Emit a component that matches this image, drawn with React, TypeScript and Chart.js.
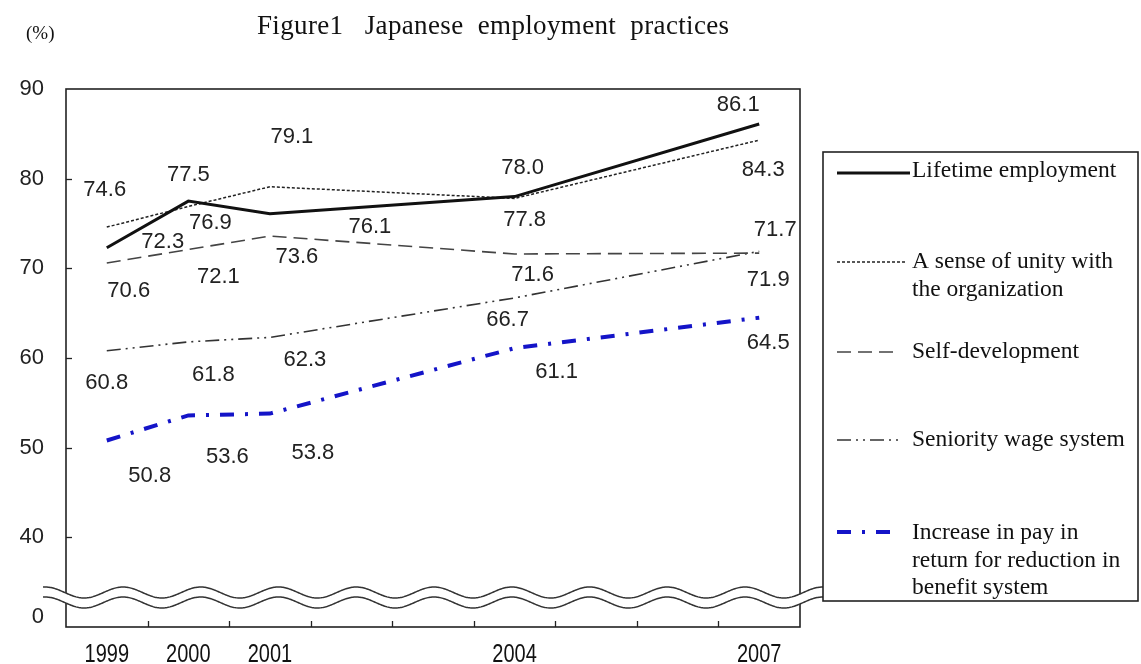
import React, { useEffect, useRef } from 'react';
import { Chart, registerables } from 'chart.js';

Chart.register(...registerables);

// ---------- data ----------
const years = ['1999', '2000', '2001', '2002', '2003', '2004', '2005', '2006', '2007'];
const surveyYears = ['1999', '2000', '2001', '2004', '2007'];

const lifetimeEmployment = [72.3, 77.5, 76.1, null, null, 78.0, null, null, 86.1];
const senseOfUnity = [74.6, 76.9, 79.1, null, null, 77.8, null, null, 84.3];
const selfDevelopment = [70.6, 72.1, 73.6, null, null, 71.6, null, null, 71.7];
const seniorityWage = [60.8, 61.8, 62.3, null, null, 66.7, null, null, 71.9];
const payForBenefitCut = [50.8, 53.6, 53.8, null, null, 61.1, null, null, 64.5];

const seriesNames = [
  ['Lifetime employment'],
  ['A sense of unity with', 'the organization'],
  ['Self-development'],
  ['Seniority wage system'],
  ['Increase in pay in', 'return for reduction in', 'benefit system'],
];

// y ticks: the "0" tick sits just above the broken axis bottom
const yTickValues = [31.1, 40, 50, 60, 70, 80, 90];
const yTickLabels = ['0', '40', '50', '60', '70', '80', '90'];

const titleText = 'Figure1   Japanese  employment  practices';
const unitText = '(%)';

// ---------- label placement (pixel offsets from each point) ----------
const labelOffsets: number[][][] = [
  [[56, -6], [0, -26], [100, 13], [8, -29], [-21, -19]],
  [[-2, -37], [22, 16], [22, -50], [10, 22], [4, 30]],
  [[22, 28], [30, 27], [27, 21], [18, 21], [16, -23]],
  [[0, 32], [25, 33], [35, 23], [-7, 22], [9, 29]],
  [[43, 35], [39, 42], [43, 39], [42, 24], [9, 25]],
];

// ---------- styles ----------
const seriesStyles = [
  { color: '#111111', width: 3, dash: [] as number[] },
  { color: '#222222', width: 1.5, dash: [3, 2] },
  { color: '#444444', width: 1.6, dash: [14, 7] },
  { color: '#333333', width: 1.6, dash: [14, 5, 2, 5, 2, 5] },
  { color: '#1414c8', width: 4, dash: [14, 11, 3, 11] },
];

const legendItems = [
  { lineY: 173, textY: 171, x2: 910 },
  { lineY: 262, textY: 262, x2: 905 },
  { lineY: 352, textY: 352, x2: 900 },
  { lineY: 440, textY: 440, x2: 900 },
  { lineY: 532, textY: 533, x2: 895 },
];

const serif = '"Liberation Serif", "Times New Roman", serif';
const sans = '"Liberation Sans", Arial, sans-serif';

const decorPlugin = {
  id: 'decor',
  afterDatasetsDraw(chart: any) {
    const { ctx, chartArea: ca } = chart;
    const x = chart.scales.x;
    const y = chart.scales.y;
    ctx.save();

    // frame
    ctx.strokeStyle = '#222';
    ctx.lineWidth = 1.6;
    ctx.setLineDash([]);
    ctx.strokeRect(ca.left, ca.top, ca.right - ca.left, ca.bottom - ca.top);

    // inward y ticks
    ctx.lineWidth = 1.3;
    yTickValues.forEach((v) => {
      if (v >= 40 && v < 90) {
        const py = Math.round(y.getPixelForValue(v)) + 0.5;
        ctx.beginPath();
        ctx.moveTo(ca.left, py);
        ctx.lineTo(ca.left + 6, py);
        ctx.stroke();
      }
    });
    // inward x ticks at category boundaries
    for (let i = 0; i < years.length - 1; i++) {
      const px = Math.round((x.getPixelForValue(i) + x.getPixelForValue(i + 1)) / 2) + 0.5;
      ctx.beginPath();
      ctx.moveTo(px, ca.bottom);
      ctx.lineTo(px, ca.bottom - 6);
      ctx.stroke();
    }

    // x tick labels (narrow sans)
    ctx.fillStyle = '#111';
    ctx.font = `25px ${sans}`;
    ctx.textAlign = 'center';
    ctx.textBaseline = 'middle';
    years.forEach((yr, i) => {
      if (!surveyYears.includes(yr)) return;
      ctx.save();
      ctx.translate(x.getPixelForValue(i), ca.bottom + 28);
      ctx.scale(0.8, 1);
      ctx.fillText(yr, 0, 0);
      ctx.restore();
    });

    // axis break (double wavy line)
    const x0 = 43;
    const x1 = 828;
    const up = ca.bottom - 34.5;
    const lo = ca.bottom - 24.5;
    const amp = 5.5;
    const period = 77.75;
    const peak = 123;
    const wave = (px: number, c: number) => c - amp * Math.cos((2 * Math.PI * (px - peak)) / period);
    ctx.beginPath();
    for (let px = x0; px <= x1; px += 1) {
      const py = wave(px, up);
      if (px === x0) ctx.moveTo(px, py);
      else ctx.lineTo(px, py);
    }
    for (let px = x1; px >= x0; px -= 1) ctx.lineTo(px, wave(px, lo));
    ctx.closePath();
    ctx.fillStyle = '#ffffff';
    ctx.fill();
    ctx.strokeStyle = '#333';
    ctx.lineWidth = 1.5;
    [up, lo].forEach((c) => {
      ctx.beginPath();
      for (let px = x0; px <= x1; px += 1) {
        const py = wave(px, c);
        if (px === x0) ctx.moveTo(px, py);
        else ctx.lineTo(px, py);
      }
      ctx.stroke();
    });

    // data labels
    ctx.fillStyle = '#222';
    ctx.font = `22px ${sans}`;
    ctx.textAlign = 'center';
    ctx.textBaseline = 'middle';
    chart.data.datasets.forEach((ds: any, di: number) => {
      let k = 0;
      ds.data.forEach((v: number | null, i: number) => {
        if (v == null) return;
        const off = labelOffsets[di][k++];
        const px = x.getPixelForValue(i);
        const py = y.getPixelForValue(v);
        ctx.fillText(v.toFixed(1), px + off[0], py + off[1]);
      });
    });

    // title and unit
    ctx.textAlign = 'left';
    ctx.textBaseline = 'alphabetic';
    ctx.fillStyle = '#111';
    ctx.font = `27px ${serif}`;
    (ctx as any).letterSpacing = '0.35px';
    ctx.fillText(titleText, 257, 34);
    (ctx as any).letterSpacing = '0px';
    ctx.font = `19px ${serif}`;
    ctx.fillText(unitText, 26, 39);

    // legend box
    ctx.strokeStyle = '#222';
    ctx.lineWidth = 1.6;
    ctx.fillStyle = '#fff';
    ctx.fillRect(823, 152, 1138 - 823, 601 - 152);
    ctx.strokeRect(823, 152, 1138 - 823, 601 - 152);
    ctx.font = `23.5px ${serif}`;
    ctx.textBaseline = 'middle';
    legendItems.forEach((it, i) => {
      const st = seriesStyles[i];
      ctx.strokeStyle = st.color;
      ctx.lineWidth = st.width;
      ctx.setLineDash(st.dash);
      ctx.beginPath();
      ctx.moveTo(837, it.lineY);
      ctx.lineTo(it.x2, it.lineY);
      ctx.stroke();
      ctx.setLineDash([]);
      ctx.fillStyle = '#111';
      seriesNames[i].forEach((t, j) => ctx.fillText(t, 912, it.textY + j * 27.5));
    });

    ctx.restore();
  },
};

export default function App() {
  const ref = useRef<HTMLCanvasElement | null>(null);
  useEffect(() => {
    if (!ref.current) return;
    const seriesData = [lifetimeEmployment, senseOfUnity, selfDevelopment, seniorityWage, payForBenefitCut];
    const chart = new Chart(ref.current, {
      type: 'line',
      data: {
        labels: years,
        datasets: seriesData.map((d, i) => ({
          label: seriesNames[i].join(' '),
          data: d,
          borderColor: seriesStyles[i].color,
          borderWidth: seriesStyles[i].width,
          borderDash: seriesStyles[i].dash,
          pointRadius: 0,
          tension: 0,
          fill: false,
          spanGaps: true,
        })),
      },
      options: {
        responsive: false,
        animation: false,
        layout: { padding: { left: 0, top: 89, right: 341, bottom: 0 } },
        plugins: { legend: { display: false }, title: { display: false }, tooltip: { enabled: false } },
        scales: {
          x: {
            type: 'category',
            offset: true,
            grid: { display: false },
            border: { display: false },
            ticks: { display: false },
            afterFit: (s: any) => {
              s.height = 37;
            },
          },
          y: {
            type: 'linear',
            min: 30,
            max: 90,
            grid: { display: false, drawTicks: false },
            border: { display: false },
            afterBuildTicks: (s: any) => {
              s.ticks = yTickValues.map((v) => ({ value: v }));
            },
            ticks: {
              padding: 22,
              color: '#222',
              font: { family: sans, size: 22 },
              callback: (v: any) => yTickLabels[yTickValues.indexOf(Number(v))] ?? '',
            },
            afterFit: (s: any) => {
              s.width = 66;
            },
          },
        },
      },
      plugins: [decorPlugin],
    });
    return () => chart.destroy();
  }, []);
  return (
    <div style={{ position: 'absolute', left: 0, top: 0, width: 1141, height: 664, background: '#fff' }}>
      <canvas ref={ref} width={1141} height={664} />
    </div>
  );
}
